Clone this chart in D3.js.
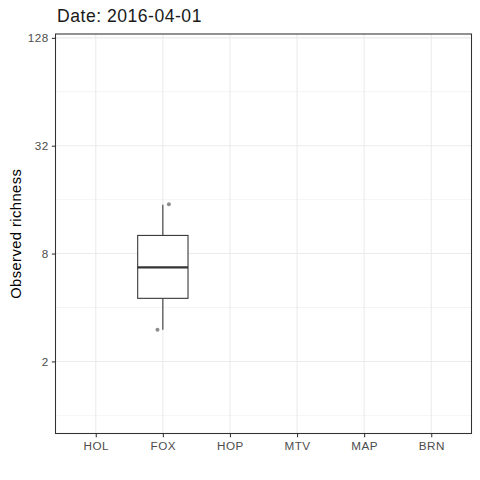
<!DOCTYPE html>
<html>
<head>
<meta charset="utf-8">
<script src="https://cdn.jsdelivr.net/npm/d3@7"></script>
<style>
  body { margin: 0; background: #fff; }
  text { font-family: "Liberation Sans", Arial, sans-serif; }
</style>
</head>
<body>
<div id="chart"></div>
<script>
"use strict";

// sites on the x axis
var sites = ["HOL", "FOX", "HOP", "MTV", "MAP", "BRN"];

// boxplot stats (only FOX has data on this date)
var boxSites = ["FOX"];
var boxLow = [3.0];
var boxQ1 = [4.5];
var boxMedian = [6.7];
var boxQ3 = [10.1];
var boxHigh = [15.0];

// jittered points
var ptSites = ["FOX", "FOX"];
var ptValues = [15.1, 3.0];
var ptJitter = [0.09, -0.08];

// y axis
var yLimits = [1, 106.5];
var yBreaks = [2, 8, 32, 128];
var yMinor = [1, 4, 16, 64];

var titleText = "Date: 2016-04-01";
var yTitle = "Observed richness";

function drawChart() {
    var w = 480;
    var h = 480;
    var pLeft = 55.5, pRight = 471.5, pTop = 34, pBottom = 433.5;

    var svg = d3.select("#chart")
        .append("svg")
        .attr("width", w)
        .attr("height", h);

    // x scale behaves like ggplot discrete scale (0.6 expansion)
    var x = d3.scalePoint()
        .domain(sites)
        .range([pLeft, pRight])
        .padding(0.6);

    // log2 y scale with 5% expansion
    var l0 = Math.log2(yLimits[0]), l1 = Math.log2(yLimits[1]);
    var pad = (l1 - l0) * 0.05;
    var y = d3.scaleLog()
        .base(2)
        .domain([Math.pow(2, l0 - pad), Math.pow(2, l1 + pad)])
        .range([pBottom, pTop]);

    //grid lines
    var grid = svg.append("g");
    grid.selectAll(".minor")
        .data(yMinor)
        .enter()
        .append("line")
        .attr("x1", pLeft).attr("x2", pRight)
        .attr("y1", function (d) { return y(d); })
        .attr("y2", function (d) { return y(d); })
        .attr("stroke", "#EBEBEB")
        .attr("stroke-width", 0.55);
    grid.selectAll(".major")
        .data(yBreaks)
        .enter()
        .append("line")
        .attr("x1", pLeft).attr("x2", pRight)
        .attr("y1", function (d) { return y(d); })
        .attr("y2", function (d) { return y(d); })
        .attr("stroke", "#EBEBEB")
        .attr("stroke-width", 1.07);
    grid.selectAll(".vmajor")
        .data(sites)
        .enter()
        .append("line")
        .attr("y1", pTop).attr("y2", pBottom)
        .attr("x1", function (d) { return x(d); })
        .attr("x2", function (d) { return x(d); })
        .attr("stroke", "#EBEBEB")
        .attr("stroke-width", 1.07);

    // boxplot
    var bw = x.step() * 0.75;
    var boxes = svg.append("g");
    boxSites.forEach(function (s, i) {
        var cx = x(s);
        boxes.append("line")
            .attr("x1", cx).attr("x2", cx)
            .attr("y1", y(boxHigh[i])).attr("y2", y(boxQ3[i]))
            .attr("stroke", "#333333").attr("stroke-width", 1.07);
        boxes.append("line")
            .attr("x1", cx).attr("x2", cx)
            .attr("y1", y(boxQ1[i])).attr("y2", y(boxLow[i]))
            .attr("stroke", "#333333").attr("stroke-width", 1.07);
        boxes.append("rect")
            .attr("x", cx - bw / 2)
            .attr("y", y(boxQ3[i]))
            .attr("width", bw)
            .attr("height", y(boxQ1[i]) - y(boxQ3[i]))
            .attr("fill", "#fff")
            .attr("stroke", "#333333")
            .attr("stroke-width", 1.07);
        boxes.append("line")
            .attr("x1", cx - bw / 2).attr("x2", cx + bw / 2)
            .attr("y1", y(boxMedian[i])).attr("y2", y(boxMedian[i]))
            .attr("stroke", "#333333").attr("stroke-width", 2.13);
    });

    // points
    svg.append("g")
        .selectAll("circle")
        .data(ptValues)
        .enter()
        .append("circle")
        .attr("cx", function (d, i) { return x(ptSites[i]) + ptJitter[i] * x.step(); })
        .attr("cy", function (d) { return y(d); })
        .attr("r", 2)
        .attr("fill", "#000")
        .attr("fill-opacity", 0.45);

    // panel border
    svg.append("rect")
        .attr("x", pLeft).attr("y", pTop)
        .attr("width", pRight - pLeft).attr("height", pBottom - pTop)
        .attr("fill", "none")
        .attr("stroke", "#333333")
        .attr("stroke-width", 1.07);

    // axes
    var yAxis = svg.append("g")
        .attr("transform", "translate(" + pLeft + ",0)")
        .call(d3.axisLeft(y).tickValues(yBreaks).tickFormat(d3.format("d")).tickSize(3.67).tickPadding(3));
    var xAxis = svg.append("g")
        .attr("transform", "translate(0," + pBottom + ")")
        .call(d3.axisBottom(x).tickSize(3.67).tickPadding(5));
    [yAxis, xAxis].forEach(function (a) {
        a.select(".domain").remove();
        a.selectAll(".tick line").attr("stroke", "#333333").attr("stroke-width", 1.07);
        a.selectAll(".tick text")
            .attr("fill", "#4D4D4D")
            .style("font-size", "11.7px")
            .style("letter-spacing", "0.5px")
            .style("font-family", "'Liberation Sans', Arial, sans-serif");
    });

    // titles
    svg.append("text")
        .attr("x", 57)
        .attr("y", 21.7)
        .attr("fill", "#1a1a1a")
        .style("font-size", "17.6px")
        .style("letter-spacing", "0.5px")
        .text(titleText);

    svg.append("text")
        .attr("transform", "translate(21," + ((pTop + pBottom) / 2) + ") rotate(-90)")
        .attr("text-anchor", "middle")
        .attr("fill", "#000")
        .style("font-size", "14.7px")
        .style("letter-spacing", "0.45px")
        .text(yTitle);
}

drawChart();
</script>
</body>
</html>
